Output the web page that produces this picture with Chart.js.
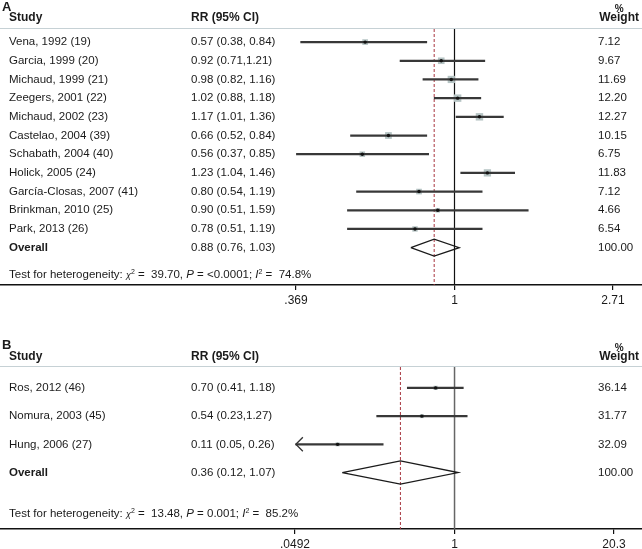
<!DOCTYPE html>
<html>
<head>
<meta charset="utf-8">
<script src="https://cdn.jsdelivr.net/npm/chart.js@4.4.1/dist/chart.umd.min.js"></script>
<style>
  html, body { margin: 0; padding: 0; background: #fff; }
  canvas { display: block; }
</style>
</head>
<body>
<canvas id="panel-a" width="642" height="335"></canvas>
<canvas id="panel-b" width="642" height="214"></canvas>
<script>
"use strict"

// panel A
var studiesA = [
  'Vena, 1992 (19)', 'Garcia, 1999 (20)', 'Michaud, 1999 (21)', 'Zeegers, 2001 (22)',
  'Michaud, 2002 (23)', 'Castelao, 2004 (39)', 'Schabath, 2004 (40)', 'Holick, 2005 (24)',
  'García-Closas, 2007 (41)', 'Brinkman, 2010 (25)', 'Park, 2013 (26)'
]
var rrLabelsA = [
  '0.57 (0.38, 0.84)', '0.92 (0.71,1.21)', '0.98 (0.82, 1.16)', '1.02 (0.88, 1.18)',
  '1.17 (1.01, 1.36)', '0.66 (0.52, 0.84)', '0.56 (0.37, 0.85)', '1.23 (1.04, 1.46)',
  '0.80 (0.54, 1.19)', '0.90 (0.51, 1.59)', '0.78 (0.51, 1.19)'
]
var rrA = [0.57, 0.92, 0.98, 1.02, 1.17, 0.66, 0.56, 1.23, 0.80, 0.90, 0.78]
var lowA = [0.38, 0.71, 0.82, 0.88, 1.01, 0.52, 0.37, 1.04, 0.54, 0.51, 0.51]
var highA = [0.84, 1.21, 1.16, 1.18, 1.36, 0.84, 0.85, 1.46, 1.19, 1.59, 1.19]
var weightsA = [7.12, 9.67, 11.69, 12.20, 12.27, 10.15, 6.75, 11.83, 7.12, 4.66, 6.54]
var overallA = [0.88, 0.76, 1.03]
var overallLabelA = '0.88 (0.76, 1.03)'
var hetA = ['39.70', '<0.0001', '74.8']
var tickValsA = [0.369, 1, 2.71]
var tickLabelsA = ['.369', '1', '2.71']

// panel B
var studiesB = ['Ros, 2012 (46)', 'Nomura, 2003 (45)', 'Hung, 2006 (27)']
var rrLabelsB = ['0.70 (0.41, 1.18)', '0.54 (0.23,1.27)', '0.11 (0.05, 0.26)']
var rrB = [0.70, 0.54, 0.11]
var lowB = [0.41, 0.23, 0.05]
var highB = [1.18, 1.27, 0.26]
var weightsB = [36.14, 31.77, 32.09]
var arrowsB = [false, false, true]
var overallB = [0.36, 0.12, 1.07]
var overallLabelB = '0.36 (0.12, 1.07)'
var hetB = ['13.48', '0.001', '85.2']
var tickValsB = [0.0492, 1, 20.3]
var tickLabelsB = ['.0492', '1', '20.3']

var FONT = "'Liberation Sans', Arial, sans-serif"
var TEXT = '#1a1a1a'
var W = 642

function font(style, size) {
  return style + ' ' + size + 'px ' + FONT
}

function drawHet(c, x, y, het) {
  var parts = [
    ['Test for heterogeneity: ', 'normal', 11.5, 0],
    ['\u03c7', 'italic', 9, 0],
    ['2', 'normal', 7, -4],
    [' =  ' + het[0] + ', ', 'normal', 11.5, 0],
    ['P', 'italic', 11.5, 0],
    [' = ' + het[1] + '; ', 'normal', 11.5, 0],
    ['I', 'italic', 11.5, 0],
    ['2', 'normal', 7, -4],
    [' =  ' + het[2] + '%', 'normal', 11.5, 0]
  ]
  c.textAlign = 'left'
  c.textBaseline = 'alphabetic'
  parts.forEach(function (p) {
    c.font = font(p[1], p[2])
    c.fillText(p[0], x, y + 4 + p[3])
    x += c.measureText(p[0]).width
  })
}

function forestPanel(id, p) {
  var k = (Math.log(p.ticks[2]) - Math.log(p.ticks[0])) / (p.tickPx[1] - p.tickPx[0])
  var xMin = Math.exp(Math.log(p.ticks[0]) - p.tickPx[0] * k)
  var xMax = Math.exp(Math.log(p.ticks[2]) + (W - p.tickPx[1]) * k)
  var rows = p.studies.map(function (s, i) { return i + 1 })
  var oRow = p.studies.length + 1
  var oEst = p.overall[0], oLow = p.overall[1], oHigh = p.overall[2]
  var h = p.diamondHalf
  var pts = rows.map(function (r, i) { return { x: p.rr[i], y: r } })

  var textPlugin = {
    id: 'forestText',
    beforeDatasetsDraw: function (chart) {
      var c = chart.ctx, ca = chart.chartArea
      c.save()
      c.strokeStyle = '#c6d1d5'
      c.lineWidth = 1
      c.beginPath()
      c.moveTo(0, ca.top - 0.5)
      c.lineTo(W, ca.top - 0.5)
      c.stroke()
      c.restore()
    },
    afterDatasetsDraw: function (chart) {
      var c = chart.ctx, ys = chart.scales.y, xs = chart.scales.x
      c.save()
      c.strokeStyle = '#333'
      c.lineWidth = 1.3
      ;(p.arrows || []).forEach(function (a, i) {
        if (!a) return
        var px = xs.getPixelForValue(p.low[i])
        var py = ys.getPixelForValue(rows[i])
        c.beginPath()
        c.moveTo(px + 7, py - 7)
        c.lineTo(px, py)
        c.lineTo(px + 7, py + 7)
        c.stroke()
      })
      c.restore()
    },
    afterDraw: function (chart) {
      var c = chart.ctx, ys = chart.scales.y
      c.save()
      c.fillStyle = TEXT
      c.textBaseline = 'middle'
      c.textAlign = 'left'
      c.font = font('bold', 13)
      c.fillText(p.letter, 2, p.letterY)
      c.font = font('bold', 12)
      c.fillText('Study', 9, p.headerY)
      c.fillText('RR (95% CI)', 191, p.headerY)
      c.textAlign = 'right'
      c.fillText('Weight', 639, p.headerY)
      var ww = c.measureText('Weight').width
      c.textAlign = 'center'
      c.font = font('bold', 10)
      c.fillText('%', 639 - ww / 2, p.headerY - 9)

      c.textAlign = 'left'
      c.font = font('normal', 11.5)
      p.studies.forEach(function (s, i) {
        var y = ys.getPixelForValue(rows[i])
        c.fillText(s, 9, y)
        c.fillText(p.rrLabels[i], 191, y)
        c.fillText(p.weights[i].toFixed(2), 598, y)
      })
      var oy = ys.getPixelForValue(oRow)
      c.fillText(p.overallLabel, 191, oy)
      c.fillText('100.00', 598, oy)
      c.font = font('bold', 11.5)
      c.fillText('Overall', 9, oy)
      drawHet(c, 9, ys.getPixelForValue(p.hetRow), p.het)
      c.restore()
    }
  }

  return new Chart(document.getElementById(id), {
    type: 'scatter',
    data: {
      datasets: [
        {
          type: 'scatter', data: pts, pointStyle: 'circle', pointRadius: 1.7,
          backgroundColor: '#111', borderWidth: 0, clip: false
        },
        {
          type: 'bar', indexAxis: 'y', grouped: false, barThickness: 1.6,
          data: rows.map(function (r, i) { return { x: [p.low[i], p.high[i]], y: r } }),
          backgroundColor: '#383838', clip: false
        },
        {
          type: 'scatter', data: pts, pointStyle: 'rect', borderWidth: 0,
          pointRadius: function (ctx) { return p.boxScale * Math.sqrt(p.weights[ctx.dataIndex]) },
          backgroundColor: '#b6c4c4', clip: false
        },
        {
          type: 'line', fill: false, tension: 0, pointRadius: 0,
          borderColor: '#1a1a1a', borderWidth: 1.3, clip: false,
          data: [
            { x: oLow, y: oRow }, { x: oEst, y: oRow - h }, { x: oHigh, y: oRow },
            { x: oEst, y: oRow + h }, { x: oLow, y: oRow }
          ]
        },
        {
          type: 'line', pointRadius: 0, borderColor: '#a8353f', borderWidth: 1,
          borderDash: [3, 2], clip: false,
          data: [{ x: oEst, y: p.yMin }, { x: oEst, y: p.yMax }]
        },
        {
          type: 'line', pointRadius: 0, borderColor: p.nullColor, borderWidth: p.nullWidth,
          clip: false,
          data: [{ x: 1, y: p.yMin }, { x: 1, y: p.yMax }]
        }
      ]
    },
    options: {
      responsive: false,
      animation: false,
      devicePixelRatio: 1,
      layout: { autoPadding: false, padding: { top: p.top, left: 0, right: 0, bottom: 0 } },
      plugins: { legend: { display: false }, tooltip: { enabled: false } },
      scales: {
        x: {
          type: 'logarithmic', min: xMin, max: xMax, offset: false,
          afterBuildTicks: function (s) {
            s.ticks = p.ticks.map(function (v) { return { value: v } })
          },
          afterFit: function (s) { s.height = p.axisHeight },
          ticks: {
            autoSkip: false, maxRotation: 0, padding: 3, color: TEXT,
            font: { family: FONT, size: 12 },
            callback: function (v, i) { return p.tickLabels[i] }
          },
          grid: { offset: false, drawOnChartArea: false, drawTicks: true, tickLength: 5, color: '#111', lineWidth: 1.2 },
          border: { display: true, color: '#111', width: 1.5 }
        },
        y: {
          type: 'linear', reverse: true, min: p.yMin, max: p.yMax, display: false,
          offset: false, grid: { offset: false }
        }
      }
    },
    plugins: [textPlugin]
  })
}

forestPanel('panel-a', {
  letter: 'A', letterY: 7, headerY: 18, top: 29, axisHeight: 50,
  studies: studiesA, rrLabels: rrLabelsA, rr: rrA, low: lowA, high: highA,
  weights: weightsA, overall: overallA, overallLabel: overallLabelA, het: hetA,
  ticks: tickValsA, tickLabels: tickLabelsA, tickPx: [296, 613],
  yMin: 0.3, yMax: 14, hetRow: 13.41, diamondHalf: 0.45, boxScale: 1.5,
  nullColor: '#111', nullWidth: 1.2
})

forestPanel('panel-b', {
  letter: 'B', letterY: 10, headerY: 22, top: 32, axisHeight: 20,
  studies: studiesB, rrLabels: rrLabelsB, rr: rrB, low: lowB, high: highB,
  weights: weightsB, arrows: arrowsB, overall: overallB, overallLabel: overallLabelB, het: hetB,
  ticks: tickValsB, tickLabels: tickLabelsB, tickPx: [295, 614],
  yMin: 0.26, yMax: 6, hetRow: 5.43, diamondHalf: 0.41, boxScale: 0.5,
  nullColor: '#666', nullWidth: 1.5
})
</script>
</body>
</html>
